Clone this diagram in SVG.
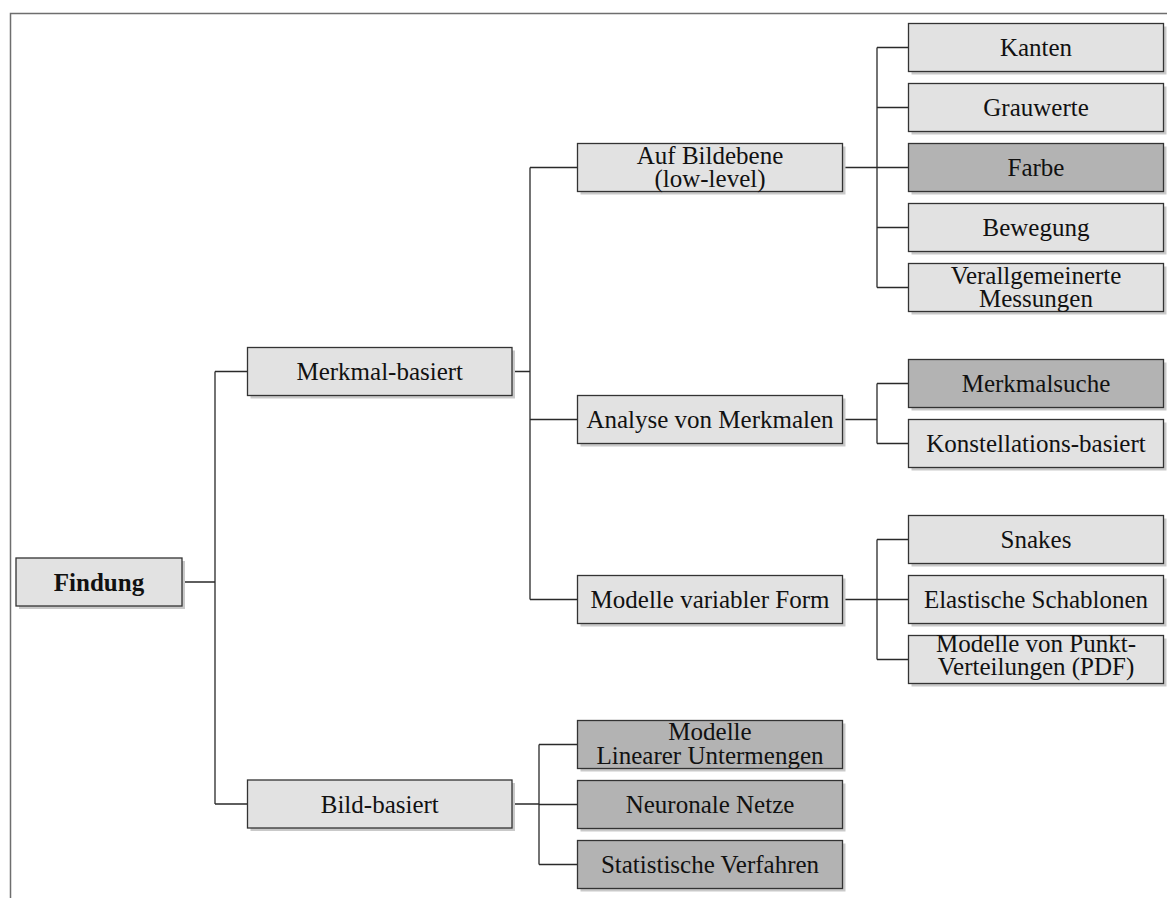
<svg xmlns="http://www.w3.org/2000/svg" width="1167" height="898" viewBox="0 0 1167 898">
  <defs>
    <style>
      .frame { fill: none; stroke: #6e6e6e; stroke-width: 1.5; }
      .wire { fill: none; stroke: #2a2a2a; stroke-width: 1.3; }
      .shadow { fill: #c9c9c9; }
      .box { stroke: #333333; stroke-width: 1.3; }
      .light { fill: #e2e2e2; }
      .dark { fill: #b3b3b3; }
      text { font-family: "Liberation Serif", "Times New Roman", serif; font-size: 25px; fill: #111111; text-anchor: middle; }
      .bold { font-weight: bold; }
    </style>
  </defs>
  <rect width="1167" height="898" fill="#ffffff"/>
  <!-- page frame -->
  <path class="frame" d="M10.5 898 V13.5 H1167"/>

  <!-- connectors -->
  <g id="connectors">
    <path class="wire" d="M182 582 H215 M215 371.5 V804 M215 371.5 H247.5 M215 804 H247.5"/>
    <path class="wire" d="M512 371.5 H530 M530 167.5 V599.5 M530 167.5 H577.5 M530 419.5 H577.5 M530 599.5 H577.5"/>
    <path class="wire" d="M842.5 167.5 H877 M877 47.5 V287.5 M877 47.5 H908.5 M877 107.5 H908.5 M877 167.5 H908.5 M877 227.5 H908.5 M877 287.5 H908.5"/>
    <path class="wire" d="M842.5 419.5 H877 M877 383.5 V443.5 M877 383.5 H908.5 M877 443.5 H908.5"/>
    <path class="wire" d="M842.5 599.5 H877 M877 539.5 V659.5 M877 539.5 H908.5 M877 599.5 H908.5 M877 659.5 H908.5"/>
    <path class="wire" d="M512 804 H539 M539 744.5 V864.5 M539 744.5 H577.5 M539 804.5 H577.5 M539 864.5 H577.5"/>
  </g>

  <!-- root -->
  <g id="findung">
    <rect class="shadow" x="19" y="561" width="166" height="48"/>
    <rect class="box light" x="16" y="558" width="166" height="48"/>
    <text class="bold" x="99" y="591">Findung</text>
  </g>

  <!-- level 1 -->
  <g id="merkmal-basiert">
    <rect class="shadow" x="250.5" y="350.5" width="264.5" height="48"/>
    <rect class="box light" x="247.5" y="347.5" width="264.5" height="48"/>
    <text x="379.75" y="380">Merkmal-basiert</text>
  </g>
  <g id="bild-basiert">
    <rect class="shadow" x="250.5" y="783" width="264.5" height="48"/>
    <rect class="box light" x="247.5" y="780" width="264.5" height="48"/>
    <text x="379.75" y="812.5">Bild-basiert</text>
  </g>

  <!-- level 2 -->
  <g id="auf-bildebene">
    <rect class="shadow" x="580.5" y="146.5" width="265" height="48"/>
    <rect class="box light" x="577.5" y="143.5" width="265" height="48"/>
    <text x="710" y="164"><tspan x="710">Auf Bildebene</tspan><tspan x="710" dy="23">(low-level)</tspan></text>
  </g>
  <g id="analyse-von-merkmalen">
    <rect class="shadow" x="580.5" y="398.5" width="265" height="48"/>
    <rect class="box light" x="577.5" y="395.5" width="265" height="48"/>
    <text x="710" y="428">Analyse von Merkmalen</text>
  </g>
  <g id="modelle-variabler-form">
    <rect class="shadow" x="580.5" y="578.5" width="265" height="48"/>
    <rect class="box light" x="577.5" y="575.5" width="265" height="48"/>
    <text x="710" y="608">Modelle variabler Form</text>
  </g>
  <g id="modelle-linearer-untermengen">
    <rect class="shadow" x="580.5" y="723.5" width="265" height="48"/>
    <rect class="box dark" x="577.5" y="720.5" width="265" height="48"/>
    <text x="710" y="740"><tspan x="710">Modelle</tspan><tspan x="710" dy="23.5">Linearer Untermengen</tspan></text>
  </g>
  <g id="neuronale-netze">
    <rect class="shadow" x="580.5" y="783.5" width="265" height="48"/>
    <rect class="box dark" x="577.5" y="780.5" width="265" height="48"/>
    <text x="710" y="813">Neuronale Netze</text>
  </g>
  <g id="statistische-verfahren">
    <rect class="shadow" x="580.5" y="843.5" width="265" height="48"/>
    <rect class="box dark" x="577.5" y="840.5" width="265" height="48"/>
    <text x="710" y="873">Statistische Verfahren</text>
  </g>

  <!-- level 3 -->
  <g id="kanten">
    <rect class="shadow" x="911.5" y="26.5" width="255" height="48"/>
    <rect class="box light" x="908.5" y="23.5" width="255" height="48"/>
    <text x="1036" y="56">Kanten</text>
  </g>
  <g id="grauwerte">
    <rect class="shadow" x="911.5" y="86.5" width="255" height="48"/>
    <rect class="box light" x="908.5" y="83.5" width="255" height="48"/>
    <text x="1036" y="116">Grauwerte</text>
  </g>
  <g id="farbe">
    <rect class="shadow" x="911.5" y="146.5" width="255" height="48"/>
    <rect class="box dark" x="908.5" y="143.5" width="255" height="48"/>
    <text x="1036" y="176">Farbe</text>
  </g>
  <g id="bewegung">
    <rect class="shadow" x="911.5" y="206.5" width="255" height="48"/>
    <rect class="box light" x="908.5" y="203.5" width="255" height="48"/>
    <text x="1036" y="236">Bewegung</text>
  </g>
  <g id="verallgemeinerte-messungen">
    <rect class="shadow" x="911.5" y="266.5" width="255" height="48"/>
    <rect class="box light" x="908.5" y="263.5" width="255" height="48"/>
    <text x="1036" y="284"><tspan x="1036">Verallgemeinerte</tspan><tspan x="1036" dy="23">Messungen</tspan></text>
  </g>
  <g id="merkmalsuche">
    <rect class="shadow" x="911.5" y="362.5" width="255" height="48"/>
    <rect class="box dark" x="908.5" y="359.5" width="255" height="48"/>
    <text x="1036" y="392">Merkmalsuche</text>
  </g>
  <g id="konstellations-basiert">
    <rect class="shadow" x="911.5" y="422.5" width="255" height="48"/>
    <rect class="box light" x="908.5" y="419.5" width="255" height="48"/>
    <text x="1036" y="452">Konstellations-basiert</text>
  </g>
  <g id="snakes">
    <rect class="shadow" x="911.5" y="518.5" width="255" height="48"/>
    <rect class="box light" x="908.5" y="515.5" width="255" height="48"/>
    <text x="1036" y="548">Snakes</text>
  </g>
  <g id="elastische-schablonen">
    <rect class="shadow" x="911.5" y="578.5" width="255" height="48"/>
    <rect class="box light" x="908.5" y="575.5" width="255" height="48"/>
    <text x="1036" y="608">Elastische Schablonen</text>
  </g>
  <g id="modelle-von-punkt-verteilungen">
    <rect class="shadow" x="911.5" y="638.5" width="255" height="48"/>
    <rect class="box light" x="908.5" y="635.5" width="255" height="48"/>
    <text x="1036" y="652"><tspan x="1036">Modelle von Punkt-</tspan><tspan x="1036" dy="23">Verteilungen (PDF)</tspan></text>
  </g>
</svg>
